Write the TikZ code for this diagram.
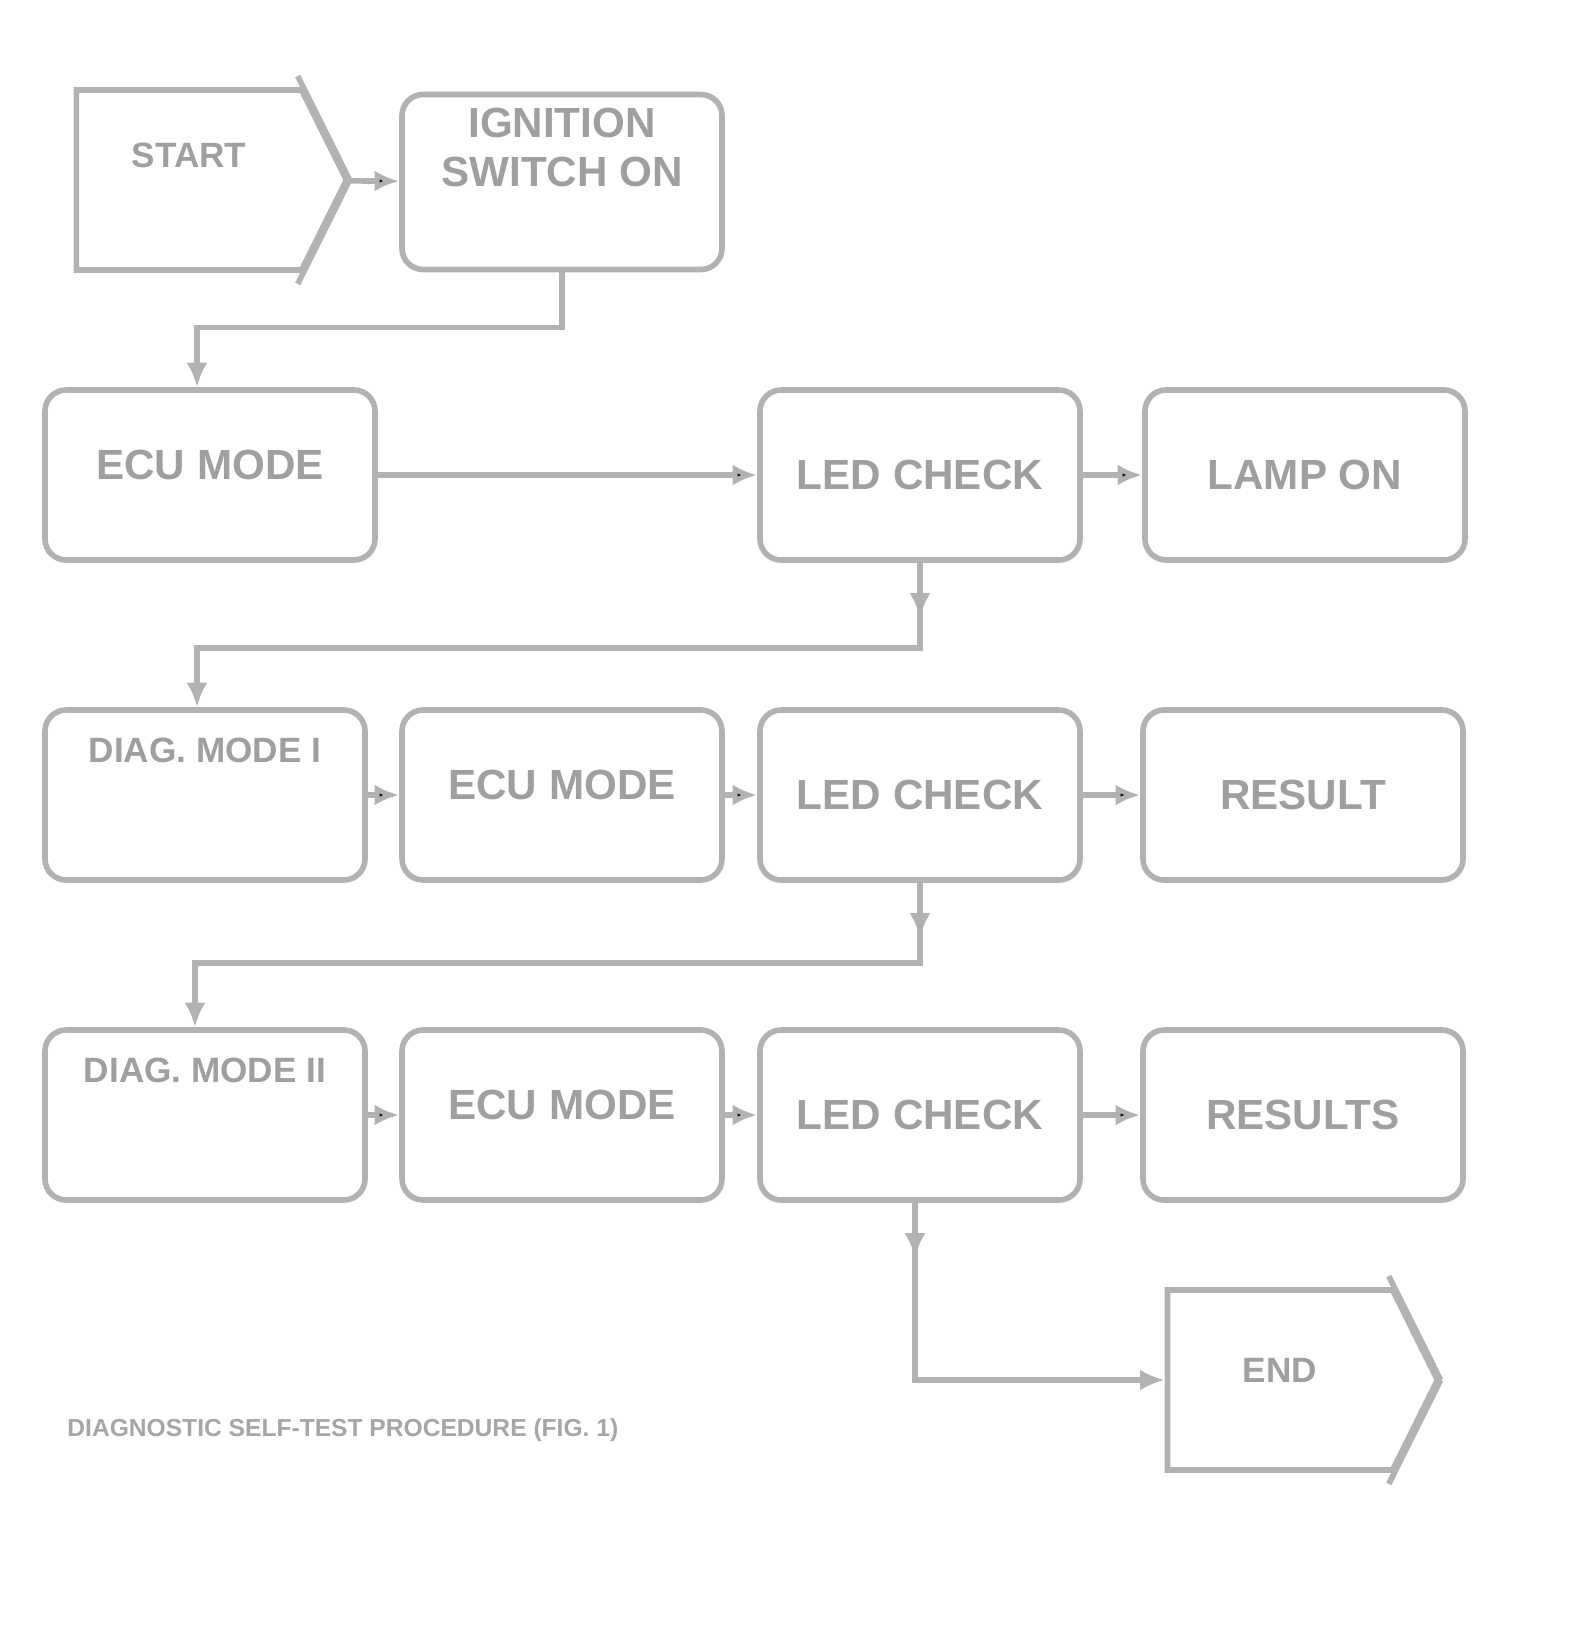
\documentclass[tikz,border=0pt]{standalone}
\usepackage{fontspec}
\setsansfont{Liberation Sans}
\usetikzlibrary{positioning, arrows.meta, shapes.symbols, calc, decorations.markings}

\tikzset{
  box/.style={draw=gray!60, line width=1.6pt, rounded corners=6pt, fill=white,
    minimum width=3.2cm, minimum height=1.7cm, text=gray!75,
    font=\sffamily\bfseries\large, align=center},
  startbox/.style={draw=gray!60, line width=1.6pt, shape=signal, signal to=east,
    signal pointer angle=127, minimum width=2.7cm, minimum height=1.8cm,
    text=gray!75, font=\sffamily\bfseries, align=center},
  wire/.style={draw=gray!60, line width=1.6pt},
  tip/.style={-{Latex[length=7pt,width=6pt]}},
  drop/.style={postaction={decorate}, decoration={markings,
    mark=at position 0.55cm with {\arrow[gray!60]{Latex[length=7pt,width=6pt]}}}}
}

\begin{document}
\begin{tikzpicture}[on grid]
\useasboundingbox (0,0) rectangle (15.71,-16.39);

% top row
\node[startbox, text depth=0.5cm] (go) at (1.89,-1.80) {START};
\node[box, minimum height=1.75cm, text depth=0.7cm] (ign) at (5.62,-1.82) {IGNITION\\ SWITCH ON};

% row 2
\node[box, minimum width=3.3cm, text depth=0.2cm] (a2) at (2.10,-4.75) {ECU MODE};
\node[box] (b2) at (9.20,-4.75) {LED CHECK};
\node[box] (c2) [right=3.85cm of b2] {LAMP ON};

% row 3
\node[box, font=\sffamily\bfseries, text depth=0.9cm] (a3) at (2.05,-7.95) {DIAG. MODE I};
\node[box, text depth=0.2cm] (b3) [right=3.57cm of a3] {ECU MODE};
\node[box] (c3) [right=3.58cm of b3] {LED CHECK};
\node[box] (d3) [right=3.83cm of c3] {RESULT};

% row 4
\node[box, font=\sffamily\bfseries, text depth=0.9cm] (a4) at (2.05,-11.15) {DIAG. MODE II};
\node[box, text depth=0.2cm] (b4) [right=3.57cm of a4] {ECU MODE};
\node[box] (c4) [right=3.58cm of b4] {LED CHECK};
\node[box] (d4) [right=3.83cm of c4] {RESULTS};

% end
\node[startbox, text depth=0.2cm] (stop) at (12.80,-13.80) {END};

% corner ticks of the start and end shapes
\draw[wire] (go.east) -- ($(go.east)!1.12!(go.north east)$);
\draw[wire] (go.east) -- ($(go.east)!1.12!(go.south east)$);
\draw[wire] (stop.east) -- ($(stop.east)!1.12!(stop.north east)$);
\draw[wire] (stop.east) -- ($(stop.east)!1.12!(stop.south east)$);

\path[wire, tip]
(go) edge (ign)
(a2) edge (b2)
(b2) edge (c2)
(a3) edge (b3)
(b3) edge (c3)
(c3) edge (d3)
(a4) edge (b4)
(b4) edge (c4)
(c4) edge (d4);

\draw[wire, tip] (ign.south) -- ++(0,-0.55) -| (a2.north -| 1.97,0);
\draw[wire, tip, drop] (b2.south) -- ++(0,-0.85) -| (a3.north -| 1.97,0);
\draw[wire, tip, drop] (c3.south) -- ++(0,-0.80) -| (a4.north -| 1.95,0);
\draw[wire, tip, drop] (c4.south -| 9.15,0) |- (stop.west);

\node[text=gray!70, font=\sffamily\bfseries\scriptsize, anchor=west] (cap) at (0.55,-14.30) {DIAGNOSTIC SELF-TEST PROCEDURE (FIG. 1)};
\end{tikzpicture}
\end{document}
